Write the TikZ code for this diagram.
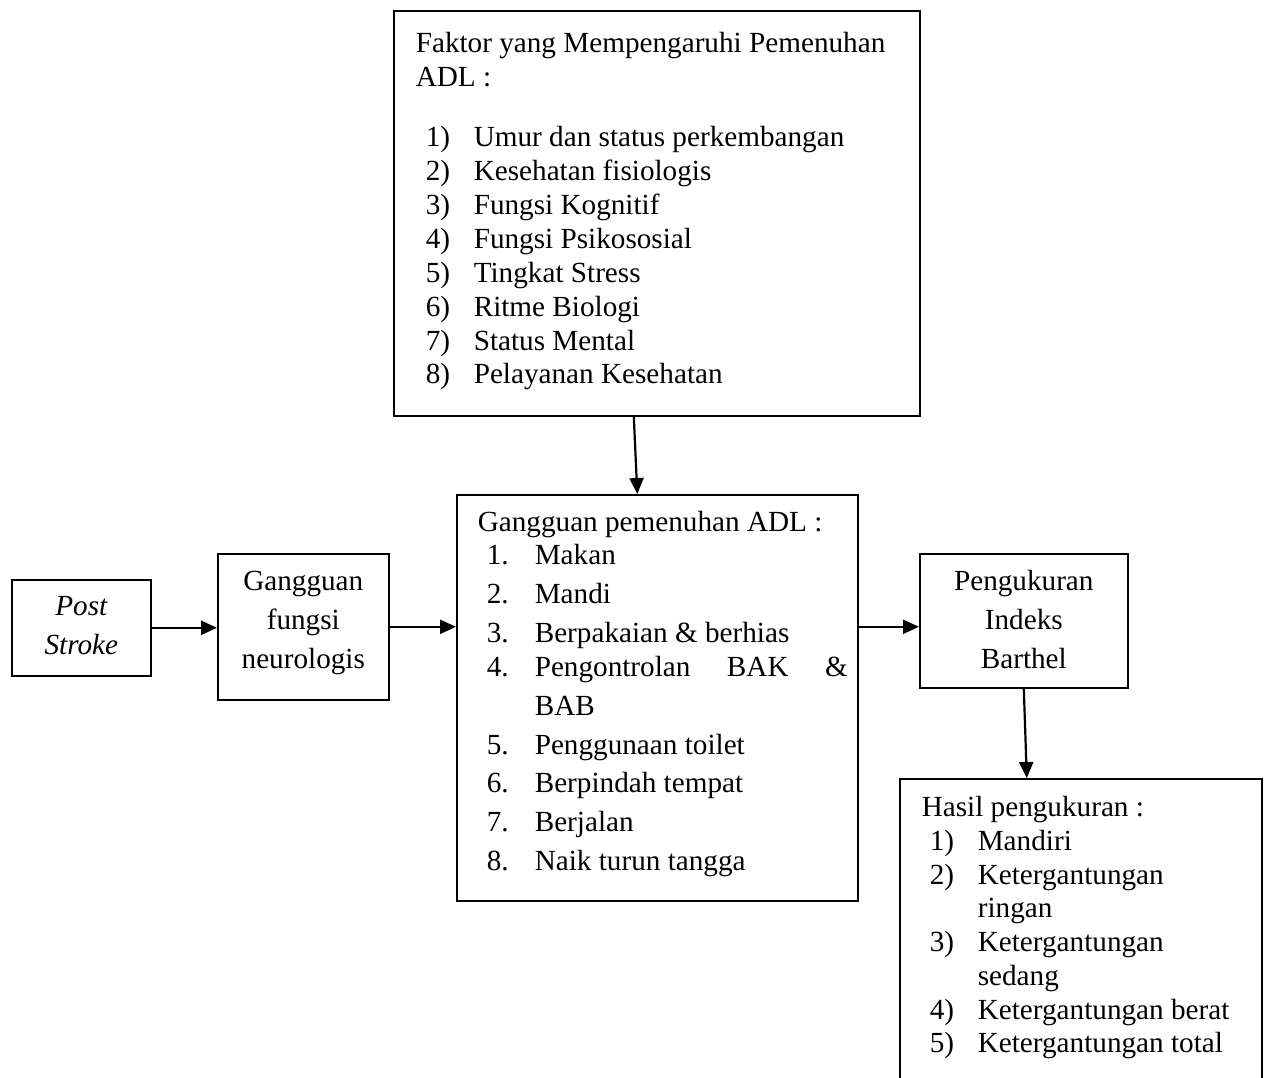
\documentclass[tikz,border=0pt]{standalone}
\usepackage{fontspec}
\setmainfont{Liberation Serif}
\usepackage{tikz}
\usetikzlibrary{arrows.meta,positioning,calc}

\newcommand{\butir}[3]{\hspace*{#1}\makebox[48pt][l]{#2}#3}

\begin{document}
\begin{tikzpicture}[x=1pt, y=-1pt, >={Triangle[length=16pt,width=14pt]}]
	\tikzstyle{kotak}=[draw=black, line width=1.6pt, inner sep=0pt, anchor=north west, text=black]
	\tikzstyle{daftar}=[kotak, align=flush left]
	\tikzstyle{tengah}=[kotak, align=flush center, font=\fontsize{29.2pt}{38.6pt}\selectfont]
	\tikzstyle{panah}=[->, line width=2.2pt]
	\useasboundingbox (0,0) rectangle (1269,1077);
	\clip (0,0) rectangle (1269,1077);
	
	\node[daftar, text width=526pt, text height=42pt, text depth=363pt, font=\fontsize{29.2pt}{33.9pt}\selectfont] (faktor) at (393,10)
	{\hspace*{22pt}Faktor yang Mempengaruhi Pemenuhan\\
	\hspace*{22pt}ADL :\\[26pt]
	\butir{32pt}{1)}{Umur dan status perkembangan}\\
	\butir{32pt}{2)}{Kesehatan fisiologis}\\
	\butir{32pt}{3)}{Fungsi Kognitif}\\
	\butir{32pt}{4)}{Fungsi Psikososial}\\
	\butir{32pt}{5)}{Tingkat Stress}\\
	\butir{32pt}{6)}{Ritme Biologi}\\
	\butir{32pt}{7)}{Status Mental}\\
	\butir{32pt}{8)}{Pelayanan Kesehatan}};
	
	\node[tengah, text width=139pt, text height=36pt, text depth=60pt, font=\fontsize{29.2pt}{38.5pt}\selectfont\itshape] (post) at (11,579) {Post\\Stroke};
	\node[tengah, text width=171pt, text height=37pt, text depth=109pt] (neuro) at (217,553) {Gangguan\\fungsi\\neurologis};
	
	\node[daftar, text width=401pt, text height=37pt, text depth=369pt, font=\fontsize{29.2pt}{38.8pt}\selectfont] (adl) at (456,494)
	{\hspace*{21pt}Gangguan pemenuhan ADL :\\[-5.8pt]
	\butir{30pt}{1.}{Makan}\\
	\butir{30pt}{2.}{Mandi}\\
	\butir{30pt}{3.}{Berpakaian \& berhias}\\[-4.8pt]
	\butir{30pt}{4.}{\makebox[313pt][l]{Pengontrolan\hfill BAK\hfill\&}}\\
	\hspace*{78pt}BAB\\
	\butir{30pt}{5.}{Penggunaan toilet}\\
	\butir{30pt}{6.}{Berpindah tempat}\\
	\butir{30pt}{7.}{Berjalan}\\
	\butir{30pt}{8.}{Naik turun tangga}};
	
	\node[tengah, text width=208pt, text height=37pt, text depth=97pt] (ukur) at (919,553) {Pengukuran\\Indeks\\Barthel};
	
	\node[daftar, text width=362pt, text height=38pt, text depth=284pt, font=\fontsize{29.2pt}{33.7pt}\selectfont] (hasil) at (899,778)
	{\hspace*{22pt}Hasil pengukuran :\\
	\butir{30pt}{1)}{Mandiri}\\
	\butir{30pt}{2)}{Ketergantungan}\\
	\hspace*{78pt}ringan\\
	\butir{30pt}{3)}{Ketergantungan}\\
	\hspace*{78pt}sedang\\
	\butir{30pt}{4)}{Ketergantungan berat}\\
	\butir{30pt}{5)}{Ketergantungan total}};
	
	\path
	(post.east) edge[panah] (post.east -| neuro.west)
	(neuro.east) edge[panah] (neuro.east -| adl.west)
	(adl.east |- neuro.east) edge[panah] (ukur.west |- neuro.east)
	([xshift=-23pt]faktor.south) edge[panah] ([xshift=-20pt]adl.north)
	(ukur.south) edge[panah] ([xshift=-54pt]hasil.north);
\end{tikzpicture}
\end{document}
